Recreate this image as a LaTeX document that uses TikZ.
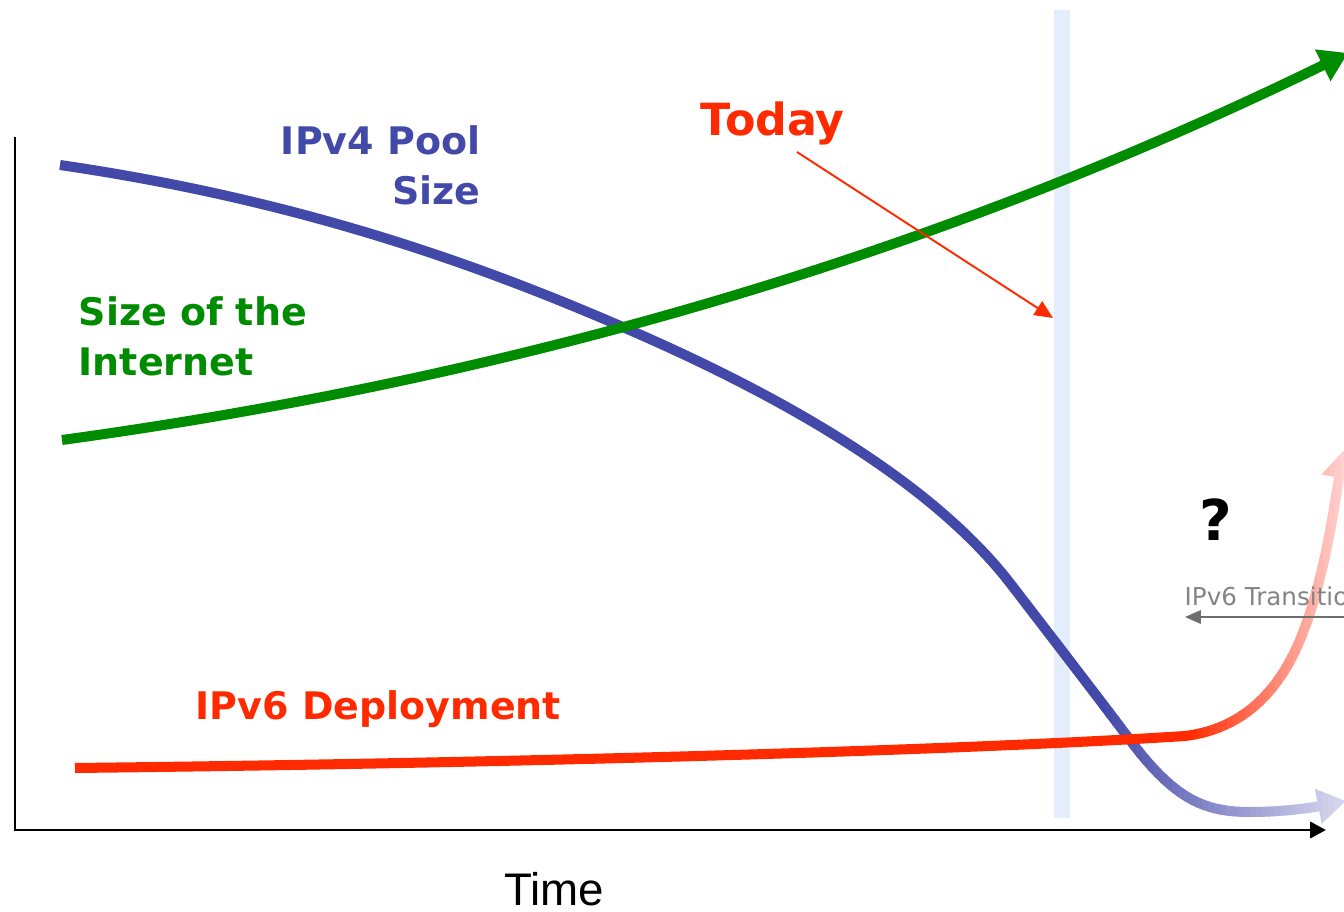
\documentclass[tikz,border=0pt]{standalone}
\usepackage{fontspec}
\setmainfont{DejaVu Sans}
\newfontfamily\arialfont{Liberation Sans}
\usetikzlibrary{arrows.meta}
\definecolor{ipblue}{HTML}{4349A8}
\definecolor{ipblueend}{HTML}{DADAF0}
\definecolor{ipgreen}{HTML}{008C00}
\definecolor{ipred}{HTML}{FF2A00}
\definecolor{ipredend}{HTML}{FFD8D8}
\definecolor{bandblue}{HTML}{E3EDFB}
\definecolor{transgray}{HTML}{6E6E6E}
\tikzset{
  curve/.style={line width=2.85pt, line cap=butt, line join=round},
  bighead/.style={-{Triangle[length=8pt,width=9.5pt]}},
  lbl/.style={font=\bfseries\fontsize{10.8}{14.3}\selectfont, inner sep=0pt},
  axis/.style={line width=0.85pt, black, -{Triangle[length=4.5pt,width=4.6pt]}},
}
\newcommand{\bluecurve}[1]{\draw[curve,#1] (60,165) .. controls (300,200) and (480,265) .. (625,328)
  .. controls (780,395) and (930,480) .. (1010,583)
  .. controls (1060,648) and (1100,700) .. (1130,740)
  .. controls (1175,800) and (1205,812) .. (1250,812)
  .. controls (1290,812) and (1320,806) .. (1346,801);}
\newcommand{\redcurve}[1]{\draw[curve,#1] (75,768) .. controls (600,762) and (1000,748) .. (1185,736)
  .. controls (1235,730) and (1275,700) .. (1300,640)
  .. controls (1325,580) and (1335,500) .. (1344,450);}
\begin{document}
\begin{tikzpicture}[x=0.01cm,y=-0.01cm]
\useasboundingbox (0,0) rectangle (1344,912);
\clip (0,0) rectangle (1344,912);

% today band
\fill[bandblue] (1054,10) rectangle (1070,818);

% axes
\coordinate (ytop) at (15,137);
\coordinate (orig) at (15,830);
\coordinate (xend) at (1326,830);
\draw[axis] (ytop) -- (orig) -- (xend);

% IPv4 pool curve (blue), fading out at the right
\begin{scope}
  \clip (0,0) rectangle (1100.5,912);
  \bluecurve{ipblue}
\end{scope}
\foreach \i in {0,...,41} {
  \pgfmathsetmacro\xa{1100+\i*6}
  \pgfmathsetmacro\xb{\xa+7}
  \pgfmathsetmacro\p{max(0,100-\i*2.45)}
  \begin{scope}
    \clip (\xa,0) rectangle (\xb,912);
    \bluecurve{ipblue!\p!ipblueend, bighead}
  \end{scope}
}

% size of the internet (green)
\draw[curve, ipgreen, bighead] (62,440) .. controls (500,380) and (920,262) .. (1348,53);

% IPv6 deployment (red), fading out at the right
\begin{scope}
  \clip (0,0) rectangle (1185.5,912);
  \redcurve{ipred}
\end{scope}
\foreach \i in {0,...,27} {
  \pgfmathsetmacro\xa{1185+\i*6}
  \pgfmathsetmacro\xb{\xa+7}
  \pgfmathsetmacro\p{max(0,100-\i*3.7)}
  \begin{scope}
    \clip (\xa,0) rectangle (\xb,912);
    \redcurve{ipred!\p!ipredend, bighead}
  \end{scope}
}

% labels
\node[lbl, text=ipblue, align=right, anchor=base east] (ipv4) at (481,205) {IPv4 Pool\\Size};
\node[lbl, text=ipgreen, align=left, anchor=base west] (inet) at (78,376) {Size of the\\Internet};
\node[lbl, text=ipred, anchor=base west] (ipv6) at (195,719) {IPv6 Deployment};
\node[lbl, text=ipred, font=\bfseries\fontsize{12.6}{14}\selectfont, anchor=base west] (today) at (700,135) {Today};
\node[lbl, text=black, font=\bfseries\fontsize{16}{18}\selectfont, anchor=base] (q) at (1216,540) {?};
\node[inner sep=0pt, text=transgray!85, font=\fontsize{7}{8}\selectfont, anchor=base west] (trans) at (1184,605) {IPv6 Transition};
\node[inner sep=0pt, font=\arialfont\fontsize{13}{15}\selectfont, anchor=base] (time) at (554,906) {Time};

% today arrow
\coordinate (ts) at (797,152);
\coordinate (te) at (1053,318);
\draw[ipred, line width=0.55pt, -{Triangle[length=5.2pt,width=4.6pt]}] (ts) -- (te);

% transition arrow
\coordinate (trs) at (1344,617);
\coordinate (tre) at (1185,617);
\draw[transgray, line width=0.6pt, -{Triangle[length=4.5pt,width=3.8pt]}] (trs) -- (tre);
\end{tikzpicture}
\end{document}
